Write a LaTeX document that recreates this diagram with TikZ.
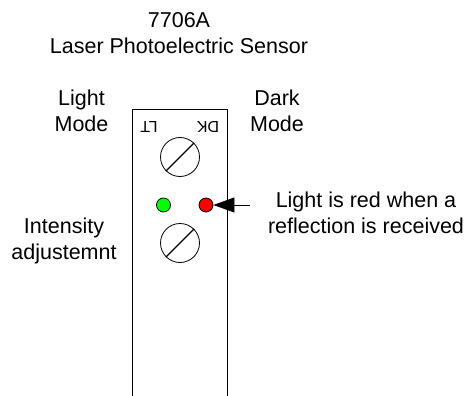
\documentclass[tikz,border=0pt]{standalone}
\usepackage{fontspec}
\setmainfont{Liberation Sans}
\usetikzlibrary{arrows.meta}
\tikzset{
  lbl/.style={font=\fontsize{21.5}{26}\selectfont, align=center, inner sep=0pt},
  tag/.style={font=\fontsize{16}{19}\selectfont, inner sep=0pt, rotate=180},
  dial/.style={draw, circle, minimum size=39pt, inner sep=0pt, line width=0.8pt},
  led/.style={draw, circle, minimum size=14pt, inner sep=0pt, line width=0.8pt}
}
\begin{document}
\begin{tikzpicture}[x=1pt, y=-1pt, line width=0.8pt]
  \useasboundingbox (0,0) rectangle (466,396);
  % Title
  \node[lbl] (title) at (179,33) {7706A\\ Laser Photoelectric Sensor};
  % Sensor body, open at the bottom
  \draw (132,396) -- (132,109) -- (227.5,109) -- (227.5,396);
  \node[tag] (lt) at (149,127) {LT};
  \node[tag] (dk) at (208,127) {DK};
  % Adjustment dials
  \node[dial] (lightdial) at (180,157) {};
  \draw[line width=1.1pt] (lightdial.225) -- (lightdial.45);
  \node[dial] (intensitydial) at (180,243) {};
  \draw[line width=1.1pt] (intensitydial.225) -- (intensitydial.45);
  % Indicator lights
  \node[led, fill=green] (greenled) at (163.5,205) {};
  \node[led, fill=red] (redled) at (206,205) {};
  \coordinate (arrowstart) at (250,205);
  \draw[-{Triangle[length=21pt, width=15pt]}] (arrowstart) -- (redled);
  % Labels
  \node[lbl] (lightmode) at (81.5,110.5) {Light\\ Mode};
  \node[lbl] (darkmode) at (277,110.5) {Dark\\ Mode};
  \node[lbl] (intensity) at (64,241) {Intensity\\ adjustemnt};
  \node[lbl] (redlabel) at (366,212.5) {Light is red when a\\ reflection is received};
\end{tikzpicture}
\end{document}
